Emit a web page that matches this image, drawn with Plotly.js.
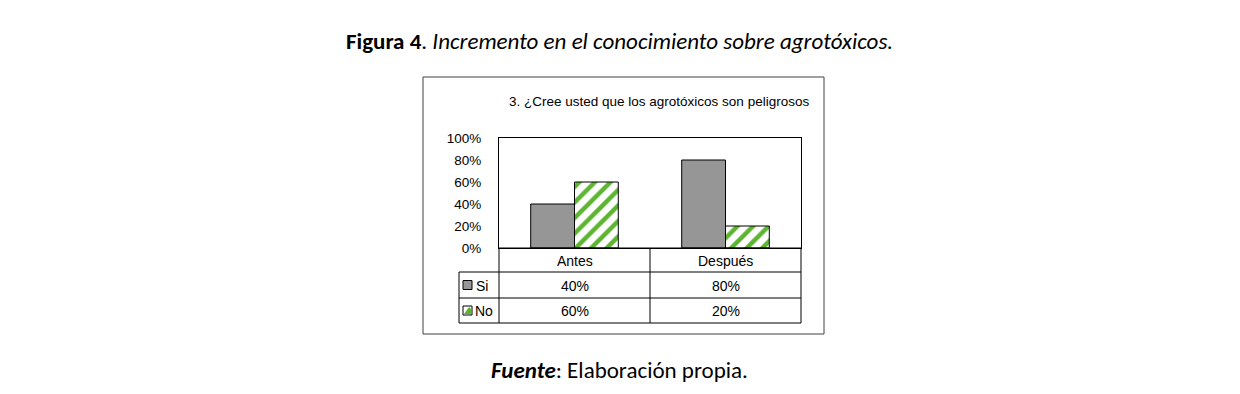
<!DOCTYPE html>
<html><head><meta charset="utf-8">
<script src="https://cdn.plot.ly/plotly-3.0.1.min.js"></script>
<style>body{margin:0;background:#fff}#c{width:1240px;height:394px}</style>
</head><body><div id="c"></div>
<script>
const categories = ["Antes", "Después"];
const seriesNames = ["Si", "No"];
const siValues = [0.40, 0.80];
const noValues = [0.60, 0.20];
const siLabels = ["40%", "80%"];
const noLabels = ["60%", "20%"];
const chartTitle = "3. ¿Cree usted que los agrotóxicos son peligrosos";
const figTitle = "<b>Figura 4</b>. <i>Incremento en el conocimiento sobre agrotóxicos.</i>";
const sourceText = "<b><i>Fuente</i></b>: Elaboración propia.";

// plot area in pixels
const L = 499, R = 801, T = 138, B = 248, W = 1240, H = 394;
const px = x => (x - L) / (R - L);
const py = y => (B - y) / (B - T);

const narrow = "Liberation Sans Narrow, Arial Narrow, Liberation Sans, Arial, sans-serif";
const calib = "Carlito, Calibri, Lato, sans-serif";

const traces = [
  {type: "bar", name: seriesNames[0], x: categories, y: siValues,
   marker: {color: "#969696", line: {color: "#000", width: 1}}, hoverinfo: "skip"},
  {type: "bar", name: seriesNames[1], x: categories, y: noValues,
   marker: {color: "#ffffff", line: {color: "#000", width: 1},
            pattern: {shape: "/", fgcolor: "#5db431", bgcolor: "#ffffff", size: 11, solidity: 0.4}},
   hoverinfo: "skip"}
];

const line = (x0, y0, x1, y1, c, w) => ({type: "line", xref: "paper", yref: "paper",
  x0: px(x0), y0: py(y0), x1: px(x1), y1: py(y1), line: {color: c || "#000", width: w || 1}});

const shapes = [
  {type: "rect", xref: "paper", yref: "paper", x0: px(423), x1: px(824), y0: py(334), y1: py(77),
   line: {color: "#404040", width: 1}, fillcolor: "rgba(0,0,0,0)", layer: "below"},
  line(499, 248, 801, 248), line(459, 272, 801, 272), line(459, 298, 801, 298), line(459, 323, 801, 323),
  line(459, 272, 459, 323), line(499, 248, 499, 323), line(650, 248, 650, 323), line(801, 248, 801, 323),
  {type: "rect", xref: "paper", yref: "paper", x0: px(463), x1: px(472), y0: py(289.5), y1: py(280.5),
   fillcolor: "#969696", line: {color: "#000", width: 1}},
  {type: "rect", xref: "paper", yref: "paper", x0: px(463), x1: px(472), y0: py(315), y1: py(306),
   fillcolor: "#ffffff", line: {color: "#000", width: 1}},
  {type: "path", xref: "paper", yref: "paper",
   path: `M ${px(464)} ${py(314)} L ${px(471)} ${py(314)} L ${px(471)} ${py(309)} L ${px(469)} ${py(307)} Z`,
   fillcolor: "#5db431", line: {width: 0}}
];

const ann = [];
const font = (s, f) => ({family: f || narrow, size: s, color: "#000"});
const A = (o) => Object.assign({showarrow: false, xanchor: "center", yanchor: "middle"}, o);
ann.push(A({xref: "paper", yref: "paper", x: px(659), y: py(102), text: chartTitle, font: font(13.5)}));
ann.push(A({xref: "paper", yref: "paper", x: px(619), y: py(41), text: figTitle, font: font(23, calib)}));
ann.push(A({xref: "paper", yref: "paper", x: px(619.5), y: py(370), text: sourceText, font: font(23, calib)}));
categories.forEach((c, i) => {
  ann.push(A({xref: "x", yref: "paper", x: c, y: py(260.5), text: c, font: font(14)}));
  ann.push(A({xref: "x", yref: "paper", x: c, y: py(285.5), text: siLabels[i], font: font(14)}));
  ann.push(A({xref: "x", yref: "paper", x: c, y: py(311), text: noLabels[i], font: font(14)}));
});
ann.push(A({xref: "paper", yref: "paper", x: px(474), y: py(285.5), text: seriesNames[0], font: font(14), xanchor: "left"}));
ann.push(A({xref: "paper", yref: "paper", x: px(473), y: py(311), text: seriesNames[1], font: font(14), xanchor: "left"}));

const layout = {
  width: W, height: H,
  margin: {l: L, r: W - R, t: T, b: H - B, pad: 0},
  paper_bgcolor: "#fff", plot_bgcolor: "#fff",
  showlegend: false, barmode: "group", bargap: 0.42, bargroupgap: 0,
  xaxis: {showticklabels: false, ticks: "", showgrid: false, zeroline: false,
          showline: true, mirror: true, linecolor: "#000", linewidth: 1, fixedrange: true},
  yaxis: {range: [0, 1], dtick: 0.2, tickformat: ".0%", showgrid: false, zeroline: false,
          showline: true, mirror: true, linecolor: "#000", linewidth: 1, ticks: "",
          ticklabelstandoff: 14, tickfont: font(13.5), fixedrange: true},
  shapes: shapes, annotations: ann
};

Plotly.newPlot("c", traces, layout, {displayModeBar: false, staticPlot: true});
</script></body></html>
